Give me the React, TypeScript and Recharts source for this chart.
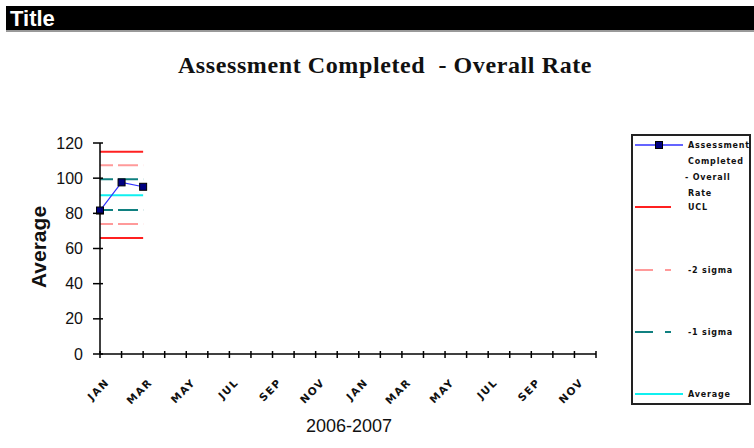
import React from 'react';
import { LineChart, Line, XAxis, YAxis } from 'recharts';

const categories = ['JAN','FEB','MAR','APR','MAY','JUN','JUL','AUG','SEP','OCT','NOV','DEC','JAN','FEB','MAR','APR','MAY','JUN','JUL','AUG','SEP','OCT','NOV','DEC'];
const rate = [81.6, 97.6, 95.1];
const ucl = [115, 115, 115];
const plus2 = [107.4, 107.4, 107.4];
const plus1 = [99.4, 99.4, 99.4];
const average = [90.3, 90.3, 90.3];
const minus1 = [81.9, 81.9, 81.9];
const minus2 = [73.9, 73.9, 73.9];
const lcl = [66, 66, 66];
const yTicks = [0, 20, 40, 60, 80, 100, 120];

const data = categories.map((m, i) => ({
  month: m,
  rate: rate[i] ?? null,
  ucl: ucl[i] ?? null,
  plus2: plus2[i] ?? null,
  plus1: plus1[i] ?? null,
  average: average[i] ?? null,
  minus1: minus1[i] ?? null,
  minus2: minus2[i] ?? null,
  lcl: lcl[i] ?? null,
}));

const YTick = (props: any) => {
  const { x, y, payload } = props;
  return (
    <g>
      <line x1={x - 7} x2={x + 3} y1={y} y2={y} stroke="#000" strokeWidth={1.5} />
      <text x={x - 17} y={y} textAnchor="end" dominantBaseline="central" fontSize={16} fontFamily="Liberation Sans, Arial" fill="#111">
        {payload.value}
      </text>
    </g>
  );
};

const XTick = (props: any) => {
  const { x, y, payload, index } = props;
  const ex = x + 10;
  const ey = y + 29;
  return (
    <g>
      <line x1={x} x2={x} y1={y - 3} y2={y + 4} stroke="#000" strokeWidth={1.5} />
      {index % 2 === 0 && (
        <text x={ex} y={ey} transform={`rotate(-45 ${ex} ${ey})`} textAnchor="end" fontSize={10.5} fontWeight="bold" letterSpacing={1.5} fontFamily="DejaVu Sans" fill="#111">
          {payload.value}
        </text>
      )}
    </g>
  );
};

const SquareDot = (props: any) => {
  const { cx, cy } = props;
  if (cx == null || cy == null) return null;
  return <rect x={cx - 3.5} y={cy - 3.5} width={7} height={7} fill="#000080" stroke="#000" strokeWidth={1} />;
};

const dash = '13 5 20 5';
const legendFont = { fontSize: 8, fontWeight: 'bold' as const, fontFamily: 'DejaVu Sans', letterSpacing: 0.8, fill: '#111' };

export default function App() {
  return (
    <div style={{ position: 'absolute', left: 0, top: 0, width: 754, height: 448, background: '#fff' }}>
      <LineChart width={754} height={448} data={data} margin={{ top: 143, right: 158, bottom: 0, left: 0 }}>
        <XAxis dataKey="month" interval={0} height={94} tickSize={0} tickMargin={0} tickLine={false} axisLine={{ stroke: '#000', strokeWidth: 1.5 }} tick={<XTick />} padding={{ left: 0, right: 0 }} />
        <YAxis width={100} domain={[0, 120]} ticks={yTicks} tickSize={0} tickMargin={0} tickLine={false} axisLine={{ stroke: '#000', strokeWidth: 1.5 }} tick={<YTick />} />
        <Line dataKey="ucl" stroke="#ff2020" strokeWidth={2} dot={false} isAnimationActive={false} />
        <Line dataKey="lcl" stroke="#ff2020" strokeWidth={2} dot={false} isAnimationActive={false} />
        <Line dataKey="plus2" stroke="#ff9a9a" strokeWidth={2} strokeDasharray={dash} dot={false} isAnimationActive={false} />
        <Line dataKey="minus2" stroke="#ff9a9a" strokeWidth={2} strokeDasharray={dash} dot={false} isAnimationActive={false} />
        <Line dataKey="plus1" stroke="#108080" strokeWidth={2} strokeDasharray={dash} dot={false} isAnimationActive={false} />
        <Line dataKey="minus1" stroke="#108080" strokeWidth={2} strokeDasharray={dash} dot={false} isAnimationActive={false} />
        <Line dataKey="average" stroke="#10f0f0" strokeWidth={2} dot={false} isAnimationActive={false} />
        <Line dataKey="rate" stroke="#3030ff" strokeWidth={1.2} dot={<SquareDot />} isAnimationActive={false} />
      </LineChart>
      <svg width={754} height={448} style={{ position: 'absolute', left: 0, top: 0, pointerEvents: 'none' }}>
        <rect x={6} y={6} width={748} height={24} fill="#000" />
        <rect x={6} y={30} width={748} height={2} fill="#999" />
        <text x={10} y={26} fill="#fff" fontSize={22} fontWeight="bold" fontFamily="Liberation Sans Narrow, Liberation Sans, Arial">Title</text>
        <text x={385} y={73} textAnchor="middle" fontSize={24} fontWeight="bold" letterSpacing={0.6} fontFamily="Liberation Serif, Times New Roman" fill="#111" style={{ whiteSpace: 'pre' }}>
          Assessment Completed  - Overall Rate
        </text>
        <text x={38} y={247} transform="rotate(-90 38 247)" textAnchor="middle" dominantBaseline="central" fontSize={21} fontWeight="bold" fontFamily="Liberation Sans, Arial" fill="#111">Average</text>
        <text x={349} y={432} textAnchor="middle" fontSize={18} fontFamily="Liberation Sans, Arial" fill="#111">2006-2007</text>
        <rect x={632} y={135} width={118} height={269} fill="#fff" stroke="#222" strokeWidth={2} />
        <line x1={635} x2={683} y1={145} y2={145} stroke="#3030ff" strokeWidth={1.5} />
        <rect x={655.5} y={141.5} width={7} height={7} fill="#000080" stroke="#000" strokeWidth={1} />
        <text x={688} y={145} dominantBaseline="central" {...legendFont}>Assessment</text>
        <text x={688} y={161} dominantBaseline="central" {...legendFont}>Completed</text>
        <text x={685} y={177} dominantBaseline="central" {...legendFont}>- Overall</text>
        <text x={688} y={193} dominantBaseline="central" {...legendFont}>Rate</text>
        <line x1={635} x2={671} y1={207} y2={207} stroke="#ff2020" strokeWidth={2} />
        <text x={688} y={207} dominantBaseline="central" {...legendFont}>UCL</text>
        <line x1={635} x2={653} y1={270} y2={270} stroke="#ff9a9a" strokeWidth={2} />
        <line x1={665} x2={671} y1={270} y2={270} stroke="#ff9a9a" strokeWidth={2} />
        <text x={688} y={270} dominantBaseline="central" {...legendFont}>-2 sigma</text>
        <line x1={635} x2={653} y1={332} y2={332} stroke="#108080" strokeWidth={2} />
        <line x1={665} x2={671} y1={332} y2={332} stroke="#108080" strokeWidth={2} />
        <text x={688} y={332} dominantBaseline="central" {...legendFont}>-1 sigma</text>
        <line x1={635} x2={683} y1={394} y2={394} stroke="#10f0f0" strokeWidth={2} />
        <text x={688} y={394} dominantBaseline="central" {...legendFont}>Average</text>
      </svg>
    </div>
  );
}
